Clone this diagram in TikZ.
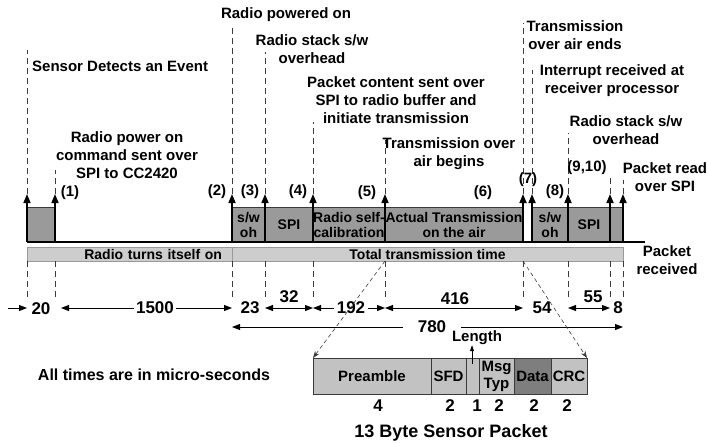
\documentclass[tikz,border=0pt]{standalone}
\usepackage{fontspec}
\setmainfont{Liberation Sans}
\usepackage{xcolor}
\usepackage{tikz}
\usetikzlibrary{positioning,arrows.meta,calc}
\definecolor{tlGray}{HTML}{9A9A9A}
\definecolor{tlGrayL}{HTML}{CDCDCD}
\definecolor{tlGrayM}{HTML}{C2C2C2}
\definecolor{tlGrayD}{HTML}{7E7E7E}
\definecolor{tlLine}{HTML}{3A3A3A}
\definecolor{tlBlack}{HTML}{000000}
\tikzset{
  tl-seg/.style={
    draw=tlLine, line width=0.6pt, fill=tlGray, inner sep=0pt, outer sep=0pt,
    minimum height=35pt, align=center, font=\fontsize{14}{15}\selectfont\bfseries
  },
  tl-bar/.style={draw=tlGray, line width=0.6pt, fill=tlGrayL, inner sep=0pt,
    outer sep=0pt, minimum height=14pt, font=\fontsize{14}{15}\selectfont\bfseries},
  tl-cell/.style={draw=tlLine, line width=0.6pt, fill=tlGrayM, inner sep=0pt,
    outer sep=0pt, minimum height=36pt, align=center,
    font=\fontsize{15}{17}\selectfont\bfseries},
  tl-evt/.style={-{Triangle[length=9pt,width=7pt]}, line width=1.6pt, draw=tlBlack},
  tl-guide/.style={dashed, dash pattern=on 6pt off 4pt, line width=0.6pt, draw=tlLine},
  tl-dim/.style={-{Triangle[length=8pt,width=6pt]}, line width=0.9pt},
  tl-dim2/.style={{Triangle[length=8pt,width=6pt]}-{Triangle[length=8pt,width=6pt]},
    line width=0.9pt},
  tl-label/.style={font=\fontsize{15}{18}\selectfont\bfseries, align=center,
    inner sep=0pt},
  tl-num/.style={font=\fontsize{17}{20}\selectfont\bfseries, inner sep=0pt}
}

\begin{document}
\begin{tikzpicture}[x=1pt, y=-1pt]
\useasboundingbox (0,0) rectangle (708,442);

% Time marks
\foreach \n/\x/\y in {0/27/50, 1/55/170, 2/232/25, 3/265/52, 4/313/122,
  5/385/140, 6/523/23, 7/532/70, 8/568/133, 9/610/177, 10/623/180} {
  \coordinate (t\n) at (\x,242);
  \coordinate (a\n) at (\x,194);
  \coordinate (h\n) at (\x,\y);
  \coordinate (g\n) at (\x,261);
  \coordinate (l\n) at (\x,301);
  \coordinate (b\n) at (\x,308);
}

% Activity blocks
\node[tl-seg, minimum width=28] (seg-evt) at (41,224.5) {};
\node[tl-seg, minimum width=33] (seg-sw1) at (248.5,224.5) {s/w\\oh};
\node[tl-seg, minimum width=48, right=0pt of seg-sw1] (seg-spi1) {SPI};
\node[tl-seg, minimum width=72, right=0pt of seg-spi1] (seg-cal)
  {Radio self-\\calibration};
\node[tl-seg, minimum width=138, right=0pt of seg-cal] (seg-air)
  {Actual Transmission\\on the air};
\node[tl-seg, minimum width=36] (seg-sw2) at (550,224.5) {s/w\\oh};
\node[tl-seg, minimum width=42, right=0pt of seg-sw2] (seg-spi2) {SPI};
\node[tl-seg, minimum width=13, right=0pt of seg-spi2] (seg-rd) {};

\coordinate (base-end) at (645,242);
\draw[line width=1.4pt] (t0) -- (base-end);

\node[tl-bar, minimum width=205, text width=185, align=right] (bar-on)
  at (129.5,254) {Radio turns itself on};
\node[tl-bar, minimum width=391, right=0pt of bar-on] (bar-tot)
  {Total transmission time};

% Events
\foreach \n in {0,...,10} {
  \draw[tl-evt] (t\n) -- (a\n);
  \draw[tl-guide] (a\n) -- (h\n);
}
\foreach \n in {0,1,2,3,4,5,6,8,9,10}
  \draw[tl-guide] (g\n) -- (l\n);

\node[tl-label, anchor=west] (lbl-sense) at (32,66) {Sensor Detects an Event};
\node[tl-label] (lbl-cmd) at (127,155)
  {Radio power on\\command sent over\\SPI to CC2420};
\node[tl-label] (lbl-on) at (286,15) {Radio powered on};
\node[tl-label] (lbl-stack1) at (312,49) {Radio stack s/w\\overhead};
\node[tl-label] (lbl-pkt) at (396,100)
  {Packet content sent over\\SPI to radio buffer and\\initiate transmission};
\node[tl-label] (lbl-begin) at (449,154) {Transmission over\\air begins};
\node[tl-label] (lbl-end) at (575,35) {Transmission\\over air ends};
\node[tl-label] (lbl-irq) at (612,81)
  {Interrupt received at\\receiver processor};
\node[tl-label] (lbl-stack2) at (626,130) {Radio stack s/w\\overhead};
\node[tl-label] (lbl-read) at (665,177) {Packet read\\over SPI};
\node[tl-label] (lbl-recv) at (667,260) {Packet\\received};

\node[tl-label] (s1) at (70,193) {(1)};
\node[tl-label] (s2) at (217,192) {(2)};
\node[tl-label] (s3) at (250,192) {(3)};
\node[tl-label] (s4) at (298,192) {(4)};
\node[tl-label] (s5) at (367,193) {(5)};
\node[tl-label] (s6) at (483,193) {(6)};
\node[tl-label] (s7) at (528,180) {(7)};
\node[tl-label] (s8) at (555,192) {(8)};
\node[tl-label] (s9) at (587,168) {(9,10)};

% Durations
\coordinate (d20) at (8,308);
\draw[tl-dim] (d20) -- (b0);
\node[tl-num] (n20) at (41,309) {20};
\draw[tl-dim2, shorten <=6pt] (b1) -- (b2);
\node[tl-num, fill=white, inner xsep=2pt] (n1500) at (155,308) {1500};
\node[tl-num] (n23) at (250,308) {23};
\draw[tl-dim2] (b3) -- (b4);
\node[tl-num] (n32) at (289,297) {32};
\node[tl-num] (n192) at (351,308) {192};
\draw[tl-dim] ([xshift=-3pt]n192.west) -- (b4);
\draw[tl-dim] ([xshift=3pt]n192.east) -- (b5);
\draw[tl-dim2] (b5) -- (b6);
\node[tl-num] (n416) at (455,299) {416};
\node[tl-num] (n54) at (542,308) {54};
\draw[tl-dim2] (b8) -- (b9);
\node[tl-num] (n55) at (593,297) {55};
\node[tl-num] (n8) at (618,308) {8};

\coordinate (tot-l) at (232,327);
\coordinate (tot-r) at (623,327);
\node[tl-num, inner xsep=15pt] (n780) at (432,327) {780};
\draw[tl-dim] (n780.west) -- (tot-l);
\draw[tl-dim] (n780.east) -- (tot-r);

% Packet layout
\node[tl-cell, minimum width=118] (pk-pre) at (372,376) {Preamble};
\node[tl-cell, minimum width=35, right=0pt of pk-pre] (pk-sfd) {SFD};
\node[tl-cell, minimum width=13, right=0pt of pk-sfd] (pk-len) {};
\node[tl-cell, minimum width=35, right=0pt of pk-len] (pk-typ) {Msg\\Typ};
\node[tl-cell, minimum width=37, fill=tlGrayD, right=0pt of pk-typ] (pk-data)
  {Data};
\node[tl-cell, minimum width=36, right=0pt of pk-data] (pk-crc) {CRC};

\draw[tl-guide, dash pattern=on 4pt off 3pt, -{Stealth[length=7pt,width=5pt]}]
  (g5) -- (pk-pre.north west);
\draw[tl-guide, dash pattern=on 4pt off 3pt, -{Stealth[length=7pt,width=5pt]}]
  (g6) -- (pk-crc.north east);

\node[tl-label] (lbl-len) at (477,338) {Length};
\coordinate (len-foot) at (472,364);
\draw[-{Triangle[length=6pt,width=4pt]}, line width=0.7pt]
  (len-foot) -- (len-foot |- lbl-len.south);

\node[tl-num] (c-pre) at (378,406) {4};
\node[tl-num] (c-sfd) at (450,406) {2};
\node[tl-num] (c-len) at (477,406) {1};
\node[tl-num] (c-typ) at (499,406) {2};
\node[tl-num] (c-data) at (534,406) {2};
\node[tl-num] (c-crc) at (567,406) {2};

\node[tl-num, font=\fontsize{18}{20}\selectfont\bfseries] (lbl-title)
  at (451,433) {13 Byte Sensor Packet};
\node[tl-label, font=\fontsize{16}{18}\selectfont\bfseries] (lbl-times)
  at (154,375) {All times are in micro-seconds};
\end{tikzpicture}
\end{document}
